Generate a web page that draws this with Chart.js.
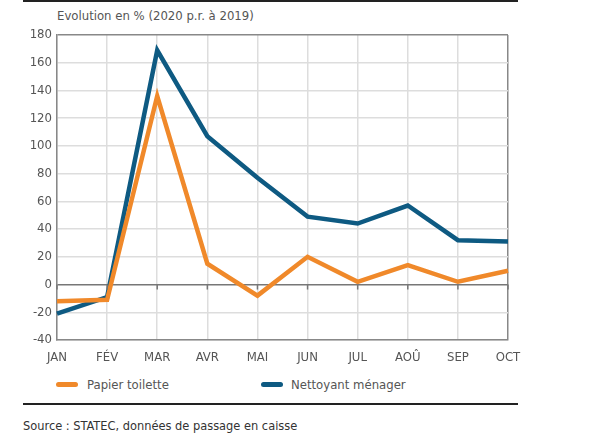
<!DOCTYPE html>
<html>
<head>
<meta charset="utf-8">
<script src="https://cdn.jsdelivr.net/npm/chart.js@4"></script>
<style>
  html, body { margin: 0; padding: 0; background: #fff; }
  body { width: 600px; height: 435px; position: relative; overflow: hidden;
         font-family: "DejaVu Sans Condensed", sans-serif; }
  #wrap { position: absolute; left: 0; top: 0; width: 600px; height: 375px; }
  .rule { position: absolute; left: 23px; width: 495px; height: 2px; background: #222; }
  .txt { position: absolute; white-space: nowrap; }
  .swatch { position: absolute; width: 22px; height: 5px; border-radius: 3px; }
</style>
</head>
<body>
<div class="rule" style="top:0px"></div>
<div class="txt" style="left:57px;top:8px;font-size:13px;color:#555">Evolution en % (2020 p.r. à 2019)</div>
<div id="wrap"><canvas id="c"></canvas></div>
<div class="swatch" style="left:56px;top:382px;background:#F0892A"></div>
<div class="txt" style="left:87px;top:377px;font-size:13px;color:#555">Papier toilette</div>
<div class="swatch" style="left:261px;top:382px;background:#0E5A82"></div>
<div class="txt" style="left:291px;top:377px;font-size:13px;color:#555">Nettoyant ménager</div>
<div class="rule" style="top:403px"></div>
<div class="txt" style="left:23px;top:418px;font-size:12.7px;color:#333">Source : STATEC, données de passage en caisse</div>
<script>
const months = ["JAN", "FÉV", "MAR", "AVR", "MAI", "JUN", "JUL", "AOÛ", "SEP", "OCT"];
const papierToilette = [-12, -11, 136, 15, -8, 20, 2, 14, 2, 10];
const nettoyantMenager = [-21, -9, 169, 107, 77, 49, 44, 57, 32, 31];
const yMin = -40, yMax = 180, yStep = 20;

const tickFont = { family: "'DejaVu Sans Condensed', sans-serif", size: 13 };

// little tick marks hanging under the zero line
const zeroTicks = {
  id: "zeroTicks",
  afterDraw(chart) {
    const ctx = chart.ctx, x = chart.scales.x, y = chart.scales.y;
    const y0 = y.getPixelForValue(0);
    ctx.save();
    ctx.strokeStyle = "#777";
    ctx.lineWidth = 1.5;
    months.forEach((m, i) => {
      const px = x.getPixelForValue(i);
      ctx.beginPath();
      ctx.moveTo(px, y0);
      ctx.lineTo(px, y0 + 5);
      ctx.stroke();
    });
    ctx.restore();
  }
};

const ctx = document.getElementById("c");
new Chart(ctx, {
  type: "line",
  data: {
    labels: months,
    datasets: [
      { label: "Papier toilette", data: papierToilette, borderColor: "#F0892A",
        borderWidth: 4.5, pointRadius: 0, tension: 0 },
      { label: "Nettoyant ménager", data: nettoyantMenager, borderColor: "#0E5A82",
        borderWidth: 4.5, pointRadius: 0, tension: 0 }
    ]
  },
  options: {
    responsive: true,
    maintainAspectRatio: false,
    animation: false,
    layout: { padding: { left: 0, right: 92, top: 35, bottom: 0 } },
    plugins: { legend: { display: false }, tooltip: { enabled: false } },
    scales: {
      x: {
        offset: false,
        grid: { color: (c) => c.index === months.length - 1 ? "#888" : "#ddd", lineWidth: 1.5, drawTicks: false },
        border: { color: "#888", width: 1.5 },
        ticks: { color: "#555", font: tickFont, padding: 10, maxRotation: 0, autoSkip: false },
        afterFit(s) { s.height = 35; }
      },
      y: {
        min: yMin, max: yMax,
        grid: { color: (c) => c.tick.value === 0 ? "#777" : (c.tick.value === yMax ? "#888" : "#ddd"), lineWidth: 1.5, drawTicks: false },
        border: { color: "#888", width: 1.5 },
        ticks: { stepSize: yStep, color: "#555", font: tickFont, padding: 5 },
        afterFit(s) { s.width = 57; }
      }
    }
  },
  plugins: [zeroTicks]
});
</script>
</body>
</html>
